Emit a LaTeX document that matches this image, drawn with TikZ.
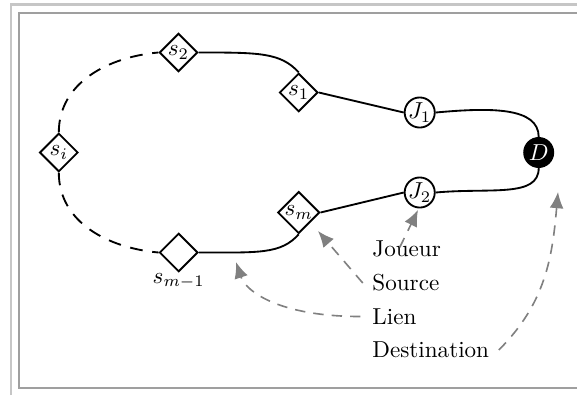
\documentclass[tikz,border=0pt]{standalone}
\usetikzlibrary{shapes.geometric,arrows.meta}
\begin{document}
\begin{tikzpicture}[x=0.4329pt,y=-0.4329pt,
  srcnode/.style={draw,diamond,thick,inner sep=0pt,minimum size=16.6pt,fill=white},
  jnode/.style={draw,circle,thick,inner sep=0pt,minimum size=12.6pt,fill=white},
  dnode/.style={draw,circle,thick,inner sep=0pt,minimum size=12.6pt,fill=black,text=white},
  link/.style={thick},
  dlink/.style={thick,dash pattern=on 5.5pt off 4.2pt},
  legarrow/.style={gray,line width=0.7pt,dash pattern=on 4.5pt off 3.5pt,-{Latex[length=7pt,width=6pt]}},
  legtext/.style={anchor=west,inner sep=0pt}]
\useasboundingbox (0,0) rectangle (577,395);
% frame
\draw[gray!45,line width=1.2pt] (11,395) -- (11,4.5) -- (580,4.5);
\draw[gray!75,line width=1pt] (580,12.8) -- (18.8,12.8) -- (18.8,388) -- (580,388);
% nodes
\node[srcnode] (s2) at (178.5,52.5) {$s_2$};
\node[srcnode] (s1) at (298.7,92.5) {$s_1$};
\node[srcnode] (si) at (58.8,152.5) {$s_i$};
\node[srcnode] (smm) at (178.7,252.5) {};
\node[srcnode] (sm) at (298.7,212.5) {$s_m$};
\node[jnode] (J1) at (419.7,112.5) {$J_1$};
\node[jnode] (J2) at (419.7,192.5) {$J_2$};
\node[dnode] (D) at (538.7,152.5) {$D$};
\node[inner sep=0pt] (lsmm) at (178.7,281) {$s_{m-1}$};
% links
\draw[link] (s2.east) .. controls +(60,0) and +(-18,-20) .. (s1.north);
\draw[link] (s1.east) -- (J1.west);
\draw[link] (J1.east) .. controls +(55,-5) and +(0,-30) .. (D.north);
\draw[link] (D.south) .. controls +(0,30) and +(55,-5) .. (J2.east);
\draw[link] (J2.west) -- (sm.east);
\draw[link] (sm.south) .. controls +(-18,20) and +(60,0) .. (smm.east);
\draw[dlink] (si.north) to[out=90,in=185] (s2.west);
\draw[dlink] (si.south) to[out=-90,in=175] (smm.west);
% legend
\node[legtext] (tj) at (372,249) {Joueur};
\node[legtext] (ts) at (372,283) {Source};
\node[legtext] (tl) at (372,316.5) {Lien};
\node[legtext] (td) at (372,350) {Destination};
\coordinate (aj) at (418,210);
\coordinate (as) at (318,231);
\coordinate (al) at (236,262);
\coordinate (ad) at (558,192);
\draw[legarrow] ([xshift=-3pt,yshift=-3pt]tj.north) -- (aj);
\draw[legarrow] ([xshift=-4pt]ts.west) -- (as);
\draw[legarrow] ([xshift=-5pt]tl.west) .. controls +(-80,0) and +(10,30) .. (al);
\draw[legarrow] ([xshift=4pt]td.east) to[out=45,in=-95] (ad);
\end{tikzpicture}
\end{document}
